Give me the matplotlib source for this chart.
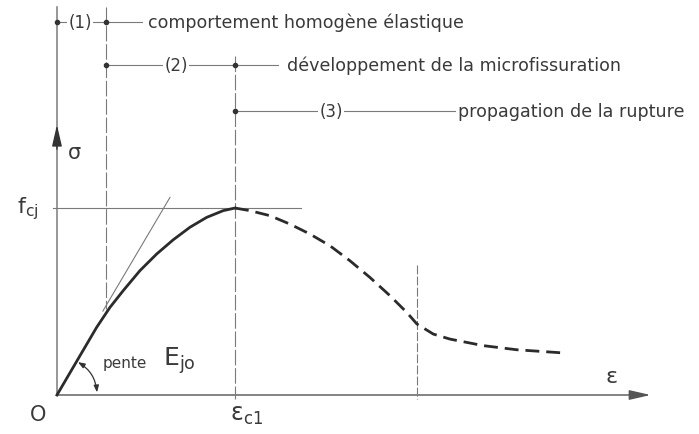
import matplotlib
matplotlib.use("Agg")
import matplotlib.pyplot as plt

# strain / stress, normalised so that eps_c1 = 1 and f_cj = 1
eps_rise = [0, 0.12, 0.223, 0.298, 0.372, 0.466, 0.560, 0.653, 0.747, 0.841, 0.934, 1.0]
sig_rise = [0, 0.195, 0.362, 0.469, 0.558, 0.665, 0.754, 0.830, 0.897, 0.950, 0.986, 1.0]

eps_soft = [1.0, 1.084, 1.197, 1.309, 1.421, 1.534, 1.646, 1.758, 1.871, 1.965, 2.022, 2.114,
            2.208, 2.395, 2.583, 2.844]
sig_soft = [1.0, 0.986, 0.959, 0.914, 0.861, 0.798, 0.718, 0.629, 0.531, 0.442, 0.380, 0.326,
            0.299, 0.264, 0.242, 0.225]

# thin tangent at the origin (slope E_jo)
tan_eps = [0.258, 0.635]
tan_sig = [0.449, 1.057]

eps_limits = [0.275, 1.0, 2.02]   # boundaries of the phases
phase_labels = ["(1)", "(2)", "(3)"]
phase_texts = ["comportement homogène élastique",
               "développement de la microfissuration",
               "propagation de la rupture"]

INK = "#2b2b2b"
THIN = "#7a7a7a"
TXT = "#3a3a3a"

fig = plt.figure(figsize=(6.99, 4.35), dpi=100)
ax = fig.add_axes([0, 0, 1, 1])
ax.set_xlim(-0.320, 3.607)
ax.set_ylim(-0.2086, 2.118)
ax.axis("off")

# axes with arrows
ax.plot([0, 3.30], [0, 0], color=THIN, lw=1.3)
ax.annotate("", xy=(3.35, 0), xytext=(3.24, 0),
            arrowprops=dict(arrowstyle="-|>,head_length=1.3,head_width=0.3", color="#555", lw=1))
ax.plot([0, 0], [0, 2.075], color=THIN, lw=1.1)
ax.annotate("", xy=(0, 1.46), xytext=(0, 1.30),
            arrowprops=dict(arrowstyle="-|>,head_length=1.3,head_width=0.3", color="#333", lw=1))

# f_cj level and tangent
ax.plot([-0.022, 1.371], [1, 1], color=THIN, lw=0.8)
ax.plot(tan_eps, tan_sig, color=THIN, lw=0.8)

# phase boundary lines
dash = (0, (14, 2.5))
ax.plot([eps_limits[0]] * 2, [2.075, 0.46], color=THIN, lw=0.8, ls=dash)
ax.plot([eps_limits[1]] * 2, [1.813, -0.02], color=THIN, lw=0.8, ls=dash)
ax.plot([eps_limits[2]] * 2, [0.695, -0.02], color=THIN, lw=0.8, ls=(0, (8, 2)))

# stress-strain curve
ax.plot(eps_rise, sig_rise, color=INK, lw=2, solid_joinstyle="round")
ax.plot(eps_soft, sig_soft, color=INK, lw=2, ls=(0, (5, 2.5)))

# phase annotations
rows = [1.995, 1.765, 1.519]
starts = [0, eps_limits[0], eps_limits[1]]
mids = [0.129, 0.669, 1.539]
ends = [0.478, 1.242, 2.236]
text_x = [0.51, 1.292, 2.253]
mid_dots = [eps_limits[0], eps_limits[1], None]
for y, x0, xm, x1, xt, d, lab, txt in zip(rows, starts, mids, ends, text_x, mid_dots,
                                          phase_labels, phase_texts):
    ax.plot([x0, x1], [y, y], color=THIN, lw=0.8)
    ax.plot([x0], [y], "o", color="#333", ms=3)
    if d is not None:
        ax.plot([d], [y], "o", color="#333", ms=3)
    ax.text(xm, y, lab, ha="center", va="center", fontsize=12, color=TXT,
            bbox=dict(facecolor="white", edgecolor="none", pad=1))
    ax.text(xt, y, txt, ha="left", va="center", fontsize=12.6, color=TXT)

# angle arc for initial slope
ax.annotate("", xy=(0.118, 0.176), xytext=(0.225, 0.014),
            arrowprops=dict(arrowstyle="<|-|>,head_length=0.4,head_width=0.15",
                            connectionstyle="arc3,rad=0.25", color="#333", lw=0.9,
                            shrinkA=0, shrinkB=0))

# labels
ax.text(0.101, 1.30, "σ", fontsize=15, color=TXT, ha="center", va="center")
ax.text(-0.225, 1.0, r"$\mathregular{f_{cj}}$", fontsize=16, color=TXT, ha="left", va="center")
ax.text(-0.107, -0.10, "O", fontsize=15, color=TXT, ha="center", va="center")
ax.text(0.972, -0.10, r"$\mathregular{\epsilon_{c1}}$", fontsize=17, color=TXT, ha="left", va="center")
ax.text(3.118, 0.10, "ε", fontsize=16, color=TXT, ha="center", va="center")
ax.text(0.258, 0.176, "pente", fontsize=11, color=TXT, ha="left", va="center")
ax.text(0.596, 0.19, r"$\mathregular{E_{jo}}$", fontsize=18, color=TXT, ha="left", va="center")

fig.savefig("out.png", dpi=100, facecolor="white")
